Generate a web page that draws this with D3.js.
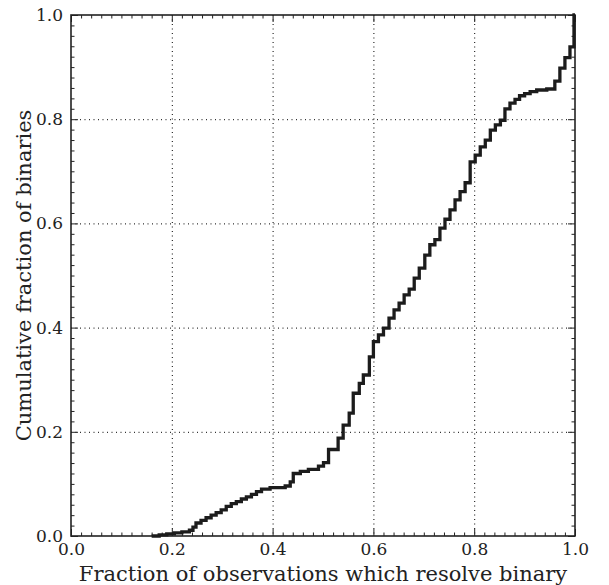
<!DOCTYPE html>
<html><head><meta charset="utf-8">
<script src="https://cdn.jsdelivr.net/npm/d3@7"></script>
<style>body{margin:0;background:#fff}svg{display:block}</style>
</head><body>
<svg id="c" width="609" height="585"></svg>
<script>
const fracObs = [0.160,0.175,0.190,0.205,0.220,0.235,0.242,0.248,0.258,0.268,0.278,0.288,0.298,0.308,0.318,0.328,0.338,0.348,0.358,0.368,0.378,0.395,0.425,0.435,0.441,0.455,0.471,0.491,0.501,0.511,0.530,0.540,0.552,0.560,0.572,0.580,0.592,0.600,0.610,0.620,0.631,0.641,0.651,0.661,0.671,0.681,0.691,0.702,0.712,0.722,0.732,0.742,0.752,0.762,0.772,0.782,0.792,0.802,0.812,0.822,0.832,0.842,0.852,0.861,0.871,0.881,0.890,0.900,0.911,0.924,0.944,0.960,0.970,0.980,0.990,0.998,1.000];
const cumFrac = [0.000,0.002,0.004,0.006,0.008,0.011,0.017,0.025,0.030,0.035,0.040,0.045,0.050,0.057,0.062,0.066,0.071,0.075,0.080,0.085,0.090,0.093,0.096,0.104,0.120,0.124,0.128,0.134,0.141,0.166,0.188,0.213,0.236,0.274,0.293,0.309,0.344,0.373,0.386,0.399,0.418,0.434,0.447,0.463,0.474,0.495,0.514,0.539,0.559,0.569,0.591,0.608,0.626,0.645,0.661,0.678,0.718,0.731,0.747,0.760,0.779,0.789,0.798,0.820,0.831,0.838,0.845,0.849,0.853,0.856,0.858,0.873,0.898,0.918,0.939,1.000,1.000];
const majorTicks = [0,0.2,0.4,0.6,0.8,1.0];
const gridTicks = [0.2,0.4,0.6,0.8];
const xTitle = "Fraction of observations which resolve binary";
const yTitle = "Cumulative fraction of binaries";

const L=71, R=575, T=15, B=536;
const svg = d3.select("#c");
const x = d3.scaleLinear().domain([0,1]).range([L,R]);
const y = d3.scaleLinear().domain([0,1]).range([B,T]);
const minor = d3.range(0,1.0001,0.02).filter(v=>Math.abs(v*5-Math.round(v*5))>1e-6);
const font = "'DejaVu Serif', serif";

// grid
const g = svg.append("g");
g.selectAll(".gx").data(gridTicks).join("line")
  .attr("x1",d=>x(d)+0.5).attr("x2",d=>x(d)+0.5).attr("y1",T).attr("y2",B)
  .attr("stroke","#000").attr("stroke-width",1).attr("stroke-dasharray","1,3.5");
g.selectAll(".gy").data(gridTicks).join("line")
  .attr("y1",d=>y(d)+0.5).attr("y2",d=>y(d)+0.5).attr("x1",L).attr("x2",R)
  .attr("stroke","#000").attr("stroke-width",1).attr("stroke-dasharray","1,3.5");

// axes with inward ticks
function ax(gen, tr){ return svg.append("g").attr("transform",tr).call(gen); }
const fmt = d3.format(".1f");
ax(d3.axisBottom(x).tickValues(majorTicks).tickFormat(fmt).tickSizeInner(-7).tickSizeOuter(0).tickPadding(7), `translate(0,${B})`);
ax(d3.axisBottom(x).tickValues(minor).tickFormat("").tickSizeInner(-3.5).tickSizeOuter(0), `translate(0,${B})`);
ax(d3.axisTop(x).tickValues(majorTicks).tickFormat("").tickSizeInner(-7).tickSizeOuter(0), `translate(0,${T})`);
ax(d3.axisTop(x).tickValues(minor).tickFormat("").tickSizeInner(-3.5).tickSizeOuter(0), `translate(0,${T})`);
ax(d3.axisLeft(y).tickValues(majorTicks).tickFormat(fmt).tickSizeInner(-7).tickSizeOuter(0).tickPadding(8), `translate(${L},0)`);
ax(d3.axisLeft(y).tickValues(minor).tickFormat("").tickSizeInner(-3.5).tickSizeOuter(0), `translate(${L},0)`);
ax(d3.axisRight(y).tickValues(majorTicks).tickFormat("").tickSizeInner(-7).tickSizeOuter(0), `translate(${R},0)`);
ax(d3.axisRight(y).tickValues(minor).tickFormat("").tickSizeInner(-3.5).tickSizeOuter(0), `translate(${R},0)`);
svg.selectAll(".domain").remove();
svg.selectAll(".tick line").attr("stroke","#222").attr("stroke-width",1);
svg.selectAll(".tick text").attr("font-family",font).attr("font-size",17).attr("fill","#222");

// frame
svg.append("rect").attr("x",L).attr("y",T).attr("width",R-L).attr("height",B-T)
  .attr("fill","none").attr("stroke","#222").attr("stroke-width",1.6);

// curve
const pts = fracObs.map((v,i)=>[v,cumFrac[i]]);
svg.append("path").datum(pts)
  .attr("d", d3.line().x(d=>x(d[0])).y(d=>y(d[1])).curve(d3.curveStepAfter))
  .attr("fill","none").attr("stroke","#1c1c1c").attr("stroke-width",3.3).attr("stroke-linejoin","miter");

// titles
svg.append("text").attr("x",(L+R)/2).attr("y",581).attr("text-anchor","middle")
  .attr("font-family",font).attr("font-size",21).attr("fill","#222").text(xTitle);
svg.append("text").attr("transform",`translate(31,${(T+B)/2}) rotate(-90)`).attr("text-anchor","middle")
  .attr("font-family",font).attr("font-size",21).attr("fill","#222").text(yTitle);
</script>
</body></html>
